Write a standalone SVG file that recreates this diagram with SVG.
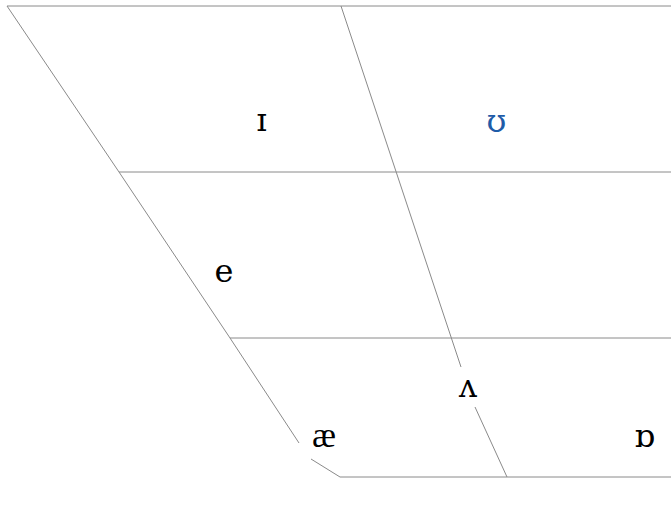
<svg xmlns="http://www.w3.org/2000/svg" width="671" height="506" viewBox="0 0 671 506">
<style>
.ln{stroke:#8a8a8a;stroke-width:1;fill:none}
.v{font-family:"DejaVu Serif","Liberation Serif",serif;font-size:32px;fill:#000;text-anchor:middle}
.t{font-family:"Liberation Serif","DejaVu Serif",serif;font-size:36px}
.lk{fill:#1f5ca8}
.frag{font-family:"DejaVu Sans",sans-serif;font-size:16px;fill:#1f5ca8}
</style>
<rect width="671" height="506" fill="#ffffff"/>
<g id="fragments">
<text class="frag" x="-6" y="-3">y</text>
<text class="frag" x="189" y="-3">p</text>
</g>
<g id="connectors">
<line class="ln" x1="7" y1="6" x2="671" y2="6"/>
<line class="ln" x1="119" y1="172" x2="671" y2="172"/>
<line class="ln" x1="230" y1="338" x2="671" y2="338"/>
<line class="ln" x1="340" y1="477" x2="671" y2="477"/>
<polyline class="ln" points="7,6 119,172 230,338 299,443"/>
<line class="ln" x1="311" y1="459" x2="340" y2="477"/>
<line class="ln" x1="341" y1="6" x2="461" y2="367"/>
<line class="ln" x1="475" y1="407" x2="507" y2="477"/>
</g>
<g id="node-i"><text class="v" x="261.5" y="131">ɪ</text></g>
<g id="node-u"><text class="v lk" x="496.5" y="132">ʊ</text></g>
<g id="node-e"><text class="v" x="224" y="282">e</text></g>
<g id="node-wedge"><text class="v" x="468" y="397">ʌ</text></g>
<g id="node-ae"><text class="v t" x="324" y="447">æ</text></g>
<g id="node-turned-a"><text class="v" x="644.5" y="447">ɒ</text></g>
</svg>
